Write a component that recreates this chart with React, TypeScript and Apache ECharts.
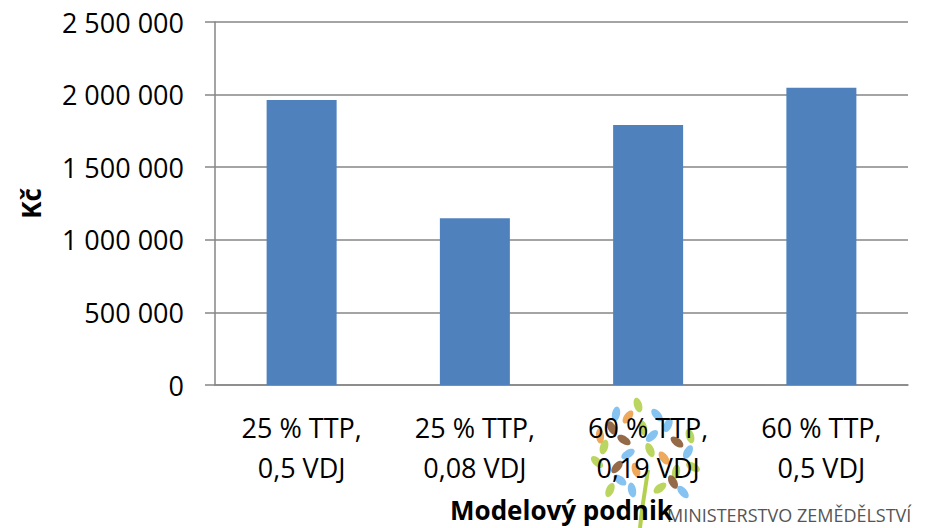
import React, { useEffect, useRef } from "react";
import * as echarts from "echarts";

const categories = ["25 % TTP,\n0,5 VDJ", "25 % TTP,\n0,08 VDJ", "60 % TTP,\n0,19 VDJ", "60 % TTP,\n0,5 VDJ"];
const values = [1963000, 1148000, 1791000, 2048000];
const yAxisName = "Kč";
const xAxisName = "Modelový podnik";
const logoText = "MINISTERSTVO ZEMĚDĚLSTVÍ";

// decorative logo leaves: [x, y, rotation, colorIndex]
const leafColors = ["#b3d04f", "#79bdef", "#8a5a34", "#eca04a"];
const leaves: [number, number, number, number][] = [
  [638, 405, 0.3, 0], [628, 417, -0.6, 3], [657, 415, 0.7, 1], [668, 425, -0.4, 1],
  [612, 428, 0.5, 2], [643, 428, 0.2, 0], [652, 436, -0.8, 1], [624, 440, 1.0, 2],
  [604, 447, -0.3, 0], [677, 442, 0.9, 2], [688, 452, -0.5, 1], [650, 450, 0.4, 0],
  [628, 454, -1.0, 1], [664, 458, 0.6, 3], [597, 462, 0.8, 0], [617, 467, -0.7, 2],
  [636, 470, 0.3, 3], [693, 467, 1.1, 0], [676, 472, -0.2, 0], [620, 480, 0.9, 1],
  [673, 482, 0.5, 2], [610, 490, -0.4, 0], [632, 490, 0.2, 1], [660, 488, -0.9, 0],
  [683, 492, 0.7, 1], [600, 436, 0.1, 3], [616, 414, -0.2, 1], [690, 436, 0.3, 0],
];

const fmt = (v: number) => String(v).replace(/\B(?=(\d{3})+(?!\d))/g, " ");

export default function App() {
  const ref = useRef<HTMLDivElement>(null);
  useEffect(() => {
    if (!ref.current) return;
    const chart = echarts.init(ref.current, undefined, { renderer: "svg" });
    const font = "'Open Sans', sans-serif";
    const graphics: any[] = leaves.map(([x, y, r, c]) => ({
      type: "ellipse",
      x,
      y,
      rotation: r,
      shape: { cx: 0, cy: 0, rx: 4, ry: 7.5 },
      style: { fill: leafColors[c], opacity: 0.9 },
      z: -1,
      silent: true,
    }));
    graphics.unshift({
      type: "polyline",
      shape: { points: [[648, 470], [645, 490], [642, 510], [640, 528]] },
      style: { stroke: "#b3d04f", lineWidth: 4, fill: "none" },
      z: -1,
      silent: true,
    });
    graphics.push({
      type: "text",
      x: 667,
      y: 515,
      style: {
        text: logoText,
        fill: "#555555",
        font: "18px 'Open Sans', sans-serif",
        textVerticalAlign: "middle",
      },
      z: -1,
      silent: true,
    });
    chart.setOption({
      animation: false,
      backgroundColor: "#ffffff",
      textStyle: { fontFamily: font },
      grid: { left: 215, right: 22, top: 22, bottom: 143, containLabel: false, outerBoundsMode: "none" },
      xAxis: {
        type: "category",
        data: categories,
        name: xAxisName,
        nameLocation: "middle",
        nameGap: 112,
        nameTextStyle: { fontSize: 26, fontWeight: "bold", color: "#000", fontFamily: font },
        axisLine: { lineStyle: { color: "#868686", width: 1.5 } },
        axisTick: { show: false },
        axisLabel: {
          fontSize: 27,
          color: "#000",
          lineHeight: 40,
          margin: 22,
          interval: 0,
          fontFamily: font,
        },
      },
      yAxis: {
        type: "value",
        min: 0,
        max: 2500000,
        interval: 500000,
        name: yAxisName,
        nameLocation: "middle",
        nameGap: 171,
        nameRotate: 90,
        nameTextStyle: { fontSize: 26, fontWeight: "bold", color: "#000", fontFamily: font },
        axisLine: { show: true, lineStyle: { color: "#868686", width: 1.5 } },
        axisTick: { show: true, length: 10, lineStyle: { color: "#868686", width: 1.5 } },
        splitLine: { lineStyle: { color: "#868686", width: 1.5 } },
        axisLabel: {
          fontSize: 27,
          color: "#000",
          margin: 31,
          formatter: (v: number) => fmt(v),
          fontFamily: font,
        },
      },
      series: [
        {
          type: "bar",
          data: values,
          barWidth: 70,
          itemStyle: { color: "#4f81bd" },
        },
      ],
      graphic: graphics,
    });
    return () => chart.dispose();
  }, []);
  return <div ref={ref} style={{ width: 930, height: 528, position: "absolute", left: 0, top: 0 }} />;
}
